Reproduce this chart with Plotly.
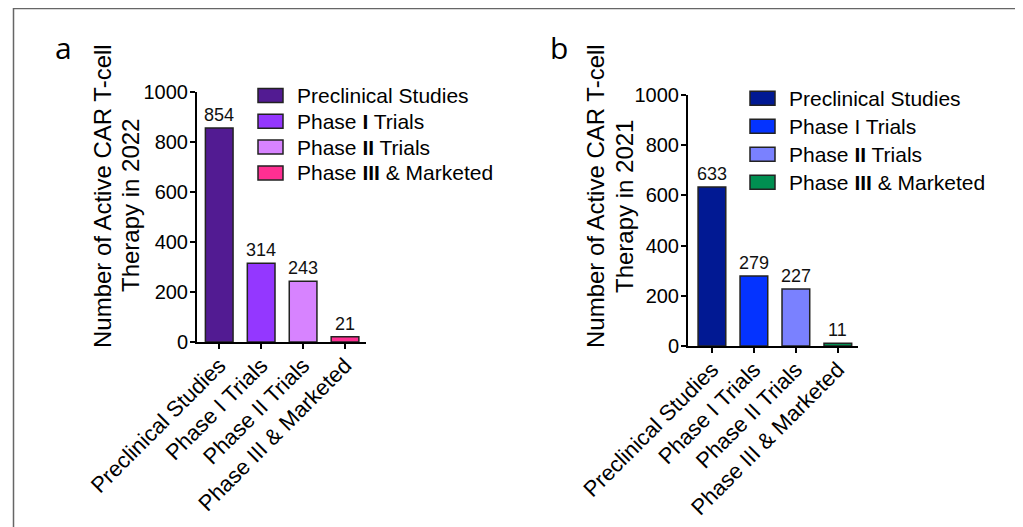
import plotly.graph_objects as go

categories = ["Preclinical Studies", "Phase I Trials", "Phase II Trials", "Phase III & Marketed"]
legend_names_2022 = ["Preclinical Studies", "Phase <b>I</b> Trials", "Phase <b>II</b> Trials", "Phase <b>III</b> & Marketed"]
legend_names_2021 = ["Preclinical Studies", "Phase I Trials", "Phase <b>II</b> Trials", "Phase <b>III</b> & Marketed"]
values_2022 = [854, 314, 243, 21]
values_2021 = [633, 279, 227, 11]
colors_2022 = ["#521b92", "#9437ff", "#d783ff", "#ff2f92"]
colors_2021 = ["#011993", "#0433ff", "#7a81ff", "#008f51"]
y_ticks = [0, 200, 400, 600, 800, 1000]
title_2022 = ["Number of Active CAR T-cell", "Therapy in 2022"]
title_2021 = ["Number of Active CAR T-cell", "Therapy in 2021"]

# page body has an 8px margin, so the figure fills the rest of the window
OFF = 8
W, H = 1023 - OFF, 527 - OFF
FONT = "Arial, Liberation Sans, sans-serif"


def px_x(p):
    return (p - OFF) / W


def px_y(p):
    return 1 - (p - OFF) / H


fig = go.Figure()

panels = [
    dict(xa="x", ya="y", vals=values_2022, cols=colors_2022, names=legend_names_2022,
         title=title_2022, title_pos=[(103, 196), (131, 206)],
         leg_x=258, leg_y0=95.5, leg_dy=25.8, letter="a", letter_pos=(63, 47)),
    dict(xa="x2", ya="y2", vals=values_2021, cols=colors_2021, names=legend_names_2021,
         title=title_2021, title_pos=[(596, 196), (625, 207)],
         leg_x=750, leg_y0=98.3, leg_dy=28, letter="b", letter_pos=(559, 47)),
]

shapes = [dict(type="rect", xref="paper", yref="paper",
               x0=px_x(13.5), x1=px_x(1021.5), y0=px_y(560), y1=px_y(8.5),
               line=dict(color="#666666", width=1.5))]

for p in panels:
    for i, (cat, v, c, n) in enumerate(zip(categories, p["vals"], p["cols"], p["names"])):
        fig.add_trace(go.Bar(
            x=[cat], y=[v], name=cat, xaxis=p["xa"], yaxis=p["ya"],
            marker=dict(color=c, line=dict(color="#222222", width=1.5)),
            width=0.66, showlegend=False, hoverinfo="x+y",
        ))
        fig.add_annotation(
            x=cat, y=v, xref=p["xa"], yref=p["ya"], text=str(v), showarrow=False,
            yanchor="bottom", yshift=1, font=dict(family=FONT, size=18, color="#111111"),
        )
        # legend entry
        cy = p["leg_y0"] + i * p["leg_dy"]
        shapes.append(dict(type="rect", xref="paper", yref="paper",
                           x0=px_x(p["leg_x"]), x1=px_x(p["leg_x"] + 25),
                           y0=px_y(cy + 7), y1=px_y(cy - 7),
                           fillcolor=c, line=dict(color="#222222", width=1.5)))
        fig.add_annotation(text=n, xref="paper", yref="paper",
                           x=px_x(p["leg_x"] + 37), y=px_y(cy), xanchor="left",
                           yanchor="middle", showarrow=False,
                           font=dict(family=FONT, size=21, color="black"))
    for line, (tx, ty) in zip(p["title"], p["title_pos"]):
        fig.add_annotation(text=line, xref="paper", yref="paper", x=px_x(tx), y=px_y(ty),
                           xanchor="center", yanchor="middle", textangle=-90, showarrow=False,
                           font=dict(family=FONT, size=24, color="black"))
    lx, ly = p["letter_pos"]
    fig.add_annotation(text=p["letter"], xref="paper", yref="paper", x=px_x(lx), y=px_y(ly),
                       xanchor="center", yanchor="middle", showarrow=False,
                       font=dict(family="Open Sans", size=30, color="black"))

axis_common = dict(
    showline=True, linewidth=2, linecolor="black", ticks="outside", ticklen=5,
    tickwidth=2, tickcolor="black", showgrid=False, zeroline=False, automargin=False,
)
x_common = dict(type="category", categoryorder="array", categoryarray=categories,
                tickangle=-45, ticklabelstandoff=-5,
                tickfont=dict(family=FONT, size=22, color="black"), **axis_common)
y_common = dict(range=[0, 1000], tickvals=y_ticks, ticklabelstandoff=-2,
                tickfont=dict(family=FONT, size=20, color="black"), **axis_common)

fig.update_layout(
    width=W, height=H, margin=dict(l=0, r=0, t=0, b=0, autoexpand=False),
    paper_bgcolor="white", plot_bgcolor="white", barmode="overlay", showlegend=False,
    xaxis=dict(domain=[px_x(197), px_x(366)], anchor="y", range=[-0.53, 3.5], **x_common),
    yaxis=dict(domain=[px_y(342), px_y(91.5)], anchor="x", **y_common),
    xaxis2=dict(domain=[px_x(688), px_x(858)], anchor="y2", range=[-0.57, 3.48], **x_common),
    yaxis2=dict(domain=[px_y(346), px_y(95)], anchor="x2", **y_common),
    shapes=shapes,
)

fig.write_html("out.html")
